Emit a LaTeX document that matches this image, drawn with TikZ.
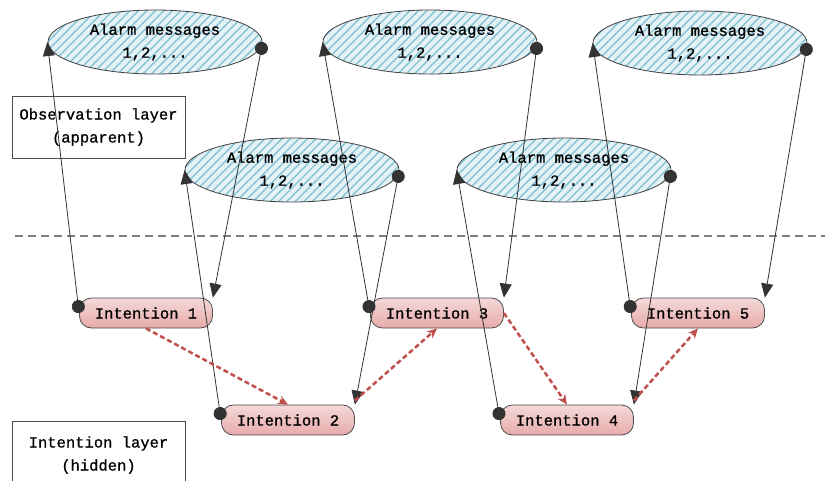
\documentclass[tikz,border=0pt]{standalone}
\usepackage{fontspec}
\newfontfamily\simfont{Liberation Mono}[FakeBold=0.9]
\usetikzlibrary{arrows.meta,shapes.geometric,patterns.meta}
\definecolor{hatchline}{HTML}{86C2D3}
\definecolor{hatchbg}{HTML}{E4F2F6}
\definecolor{intfill}{HTML}{E6ABA9}
\definecolor{flowred}{HTML}{C0504D}
\tikzset{
  txt/.style={font=\simfont\fontsize{15.5}{23}\selectfont},
  alarm/.style={ellipse, draw=black!75, line width=0.8pt, minimum width=214pt,
    minimum height=64pt, inner sep=0pt, align=center, txt,
    preaction={fill=hatchbg},
    pattern={Lines[angle=45,distance=6pt,line width=1.4pt]}, pattern color=hatchline},
  intention/.style={rectangle, rounded corners=12pt, draw=black!70, line width=0.8pt,
    top color=intfill!45, bottom color=intfill, minimum width=133pt,
    minimum height=30pt, inner sep=0pt, txt},
  layer/.style={rectangle, draw=black!70, line width=0.8pt, minimum width=173pt,
    minimum height=62pt, align=center, txt},
  link/.style={draw=black!80, line width=0.8pt,
    arrows={Circle[length=13pt]-Triangle[length=14pt,width=12pt]}},
  flowarrow/.style={draw=flowred, line width=2.5pt, dash pattern=on 5pt off 3pt,
    arrows={-Stealth[length=10pt,width=9pt]}}
}
\begin{document}
\begin{tikzpicture}[x=1pt,y=-1pt]
  \path[use as bounding box,clip] (0,0) rectangle (825,480);
  \node[layer] (obs) at (98.5,127) {Observation layer\\(apparent)};
  \node[layer, minimum height=68pt] (hid) at (98.5,455) {Intention layer\\(hidden)};
  \draw[gray, line width=1.3pt, dash pattern=on 8pt off 5pt] (15,236) -- (825,236);
  \node[alarm] (alarm1) at (155,42) {Alarm messages\\1,2,...};
  \node[alarm] (alarm2) at (292,170) {Alarm messages\\1,2,...};
  \node[alarm] (alarm3) at (430,42) {Alarm messages\\1,2,...};
  \node[alarm] (alarm4) at (564,170) {Alarm messages\\1,2,...};
  \node[alarm] (alarm5) at (700,43) {Alarm messages\\1,2,...};
  \node[intention] (int1) at (146,313) {Intention 1};
  \node[intention] (int2) at (288,420) {Intention 2};
  \node[intention] (int3) at (437,313) {Intention 3};
  \node[intention] (int4) at (567,420) {Intention 4};
  \node[intention] (int5) at (698,313) {Intention 5};
  \foreach \i in {1,...,5}{
    \draw[link] (int\i.west) -- (alarm\i.west);
    \draw[link] (alarm\i.east) -- (int\i.north east);
  }
  \draw[flowarrow] (int1.south) -- (int2.north);
  \draw[flowarrow] ([yshift=4pt]int2.north east) -- (int3.south);
  \draw[flowarrow] (int3.east) -- (int4.north);
  \draw[flowarrow] ([yshift=4pt]int4.north east) -- (int5.south);
\end{tikzpicture}
\end{document}
